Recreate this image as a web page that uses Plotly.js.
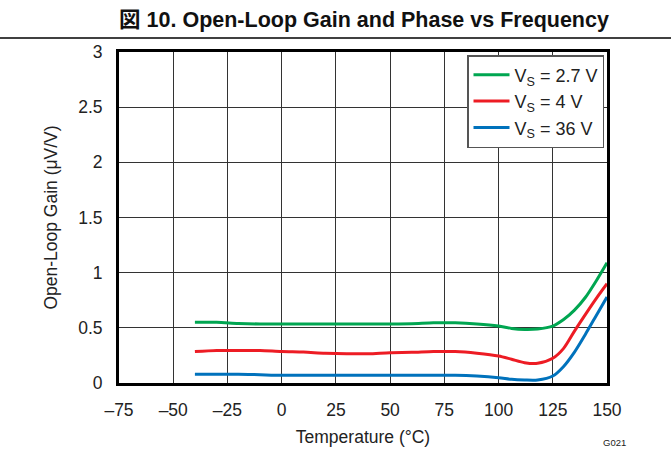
<!DOCTYPE html>
<html>
<head>
<meta charset="utf-8">
<script src="https://cdn.plot.ly/plotly-3.0.1.min.js"></script>
<style>html,body{margin:0;padding:0;background:#fff;}#chart{width:671px;height:460px;}</style>
</head>
<body>
<div id="chart"></div>
<script>
const temps = [-40,-30,-20,-10,0,10,20,30,40,50,60,70,80,90,100,106,112,118,125,130,135,140,145,150];
const gain27 = [0.55,0.55,0.54,0.535,0.535,0.535,0.535,0.535,0.535,0.535,0.537,0.545,0.545,0.535,0.516,0.495,0.486,0.49,0.516,0.575,0.66,0.775,0.925,1.09];
const gain4  = [0.285,0.295,0.295,0.295,0.285,0.28,0.27,0.265,0.265,0.275,0.278,0.285,0.285,0.27,0.245,0.215,0.184,0.178,0.224,0.314,0.47,0.62,0.765,0.90];
const gain36 = [0.08,0.08,0.08,0.075,0.07,0.07,0.07,0.07,0.07,0.07,0.07,0.07,0.07,0.063,0.048,0.033,0.027,0.027,0.063,0.15,0.28,0.44,0.61,0.78];
const seriesNames = ["V<sub>S</sub> = 2.7 V","V<sub>S</sub> = 4 V","V<sub>S</sub> = 36 V"];
const xTicks = [-75,-50,-25,0,25,50,75,100,125,150];
const yTicks = [0,0.5,1,1.5,2,2.5,3];
const yTickText = ["0","0.5","1","1.5","2","2.5","3"];

const colors = ["#00a651","#ed1c24","#0072bc"];
const series = [gain27, gain4, gain36];
const traces = series.map((s,i)=>({
  x: temps, y: s, type:'scatter', mode:'lines', name: seriesNames[i],
  line:{color:colors[i], width:3, shape:'spline', smoothing:0.8}
}));

const fontFam = 'Liberation Sans, Arial, Noto Sans CJK JP, sans-serif';
const pw = 607-119, ph = 383-52;
const layout = {
  width:671, height:460,
  margin:{l:119, r:64, t:52, b:77, pad:0},
  paper_bgcolor:'#fff', plot_bgcolor:'#fff',
  font:{family:fontFam, color:'#222', size:17},
  title:{text:'<b>図 10. Open-Loop Gain and Phase vs Frequency</b>', font:{family:fontFam, size:21.5, color:'#111'},
         x:364/671, xanchor:'center', y:1-19/460, yanchor:'middle'},
  xaxis:{range:[-75,150], tickvals:xTicks, ticktext:xTicks.map(v=>v<0?'\u2013'+Math.abs(v):String(v)),
         showgrid:true, gridcolor:'#333', gridwidth:1, zeroline:false,
         showline:true, linecolor:'#000', linewidth:3, mirror:true,
         ticks:'outside', ticklen:9, tickcolor:'rgba(0,0,0,0)',
         tickfont:{size:17.5,color:'#222'},
         title:{text:'Temperature (\u00b0C)', font:{size:17.5,color:'#222'}, standoff:12}},
  yaxis:{range:[0,3], tickvals:yTicks, ticktext:yTickText,
         showgrid:true, gridcolor:'#333', gridwidth:1, zeroline:false,
         showline:true, linecolor:'#000', linewidth:3, mirror:true,
         ticks:'outside', ticklen:10, tickcolor:'rgba(0,0,0,0)',
         tickfont:{size:17.5,color:'#222'},
         title:{text:'Open-Loop Gain (\u03bcV/V)', font:{size:17.5,color:'#222'}, standoff:17}},
  legend:{x:(604-119)/pw, xanchor:'right', y:(383-55)/ph, yanchor:'top',
          bgcolor:'#fff', bordercolor:'#555', borderwidth:1.5,
          font:{size:18,color:'#222'}, itemwidth:36, tracegroupgap:0},
  showlegend:true,
  shapes:[{type:'line', xref:'paper', yref:'paper', x0:-119/pw, x1:(671-119)/pw, y0:(383-38)/ph, y1:(383-38)/ph,
           line:{color:'#000', width:1.5}}],
  annotations:[{text:'G021', xref:'paper', yref:'paper', x:(614-119)/pw, y:(383-442)/ph, showarrow:false,
                font:{size:9.5,color:'#222'}, xanchor:'center', yanchor:'middle'}]
};
Plotly.newPlot('chart', traces, layout, {displayModeBar:false, staticPlot:true});
</script>
</body>
</html>
